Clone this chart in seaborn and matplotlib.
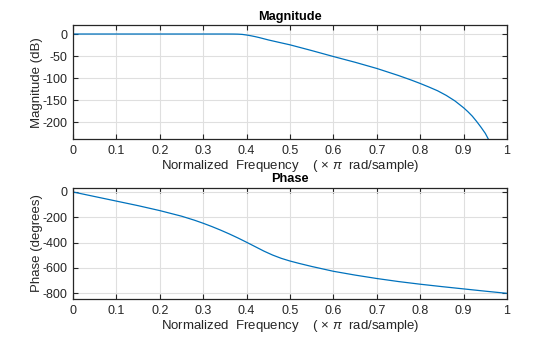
import numpy as np
import pandas as pd
import matplotlib
matplotlib.use("Agg")
import matplotlib.pyplot as plt
import seaborn as sns

# Magnitude response
mag_freq = [0.0, 0.1, 0.2, 0.3, 0.35, 0.37, 0.38, 0.39, 0.40, 0.41, 0.42, 0.43,
            0.45, 0.475, 0.50, 0.55, 0.60, 0.65, 0.70, 0.75, 0.78, 0.80, 0.82,
            0.84, 0.86, 0.88, 0.90, 0.91, 0.92, 0.93, 0.94, 0.95, 0.957]
mag_db = [0.0, 0.0, 0.0, 0.0, 0.0, -0.1, -0.3, -0.9, -2.3, -4.0, -6.0, -8.3,
          -13.4, -19.0, -24.5, -37.5, -51.0, -64.0, -78.0, -94.0, -104.5, -112.0, -120.0,
          -128.5, -139.0, -151.5, -167.0, -176.0, -186.0, -198.0, -211.0, -225.0, -238.0]

# Phase response
ph_freq = [0.0, 0.05, 0.1, 0.15, 0.2, 0.25, 0.28, 0.3, 0.32, 0.34, 0.36, 0.38,
           0.40, 0.42, 0.44, 0.46, 0.48, 0.50, 0.52, 0.55, 0.60, 0.65, 0.70,
           0.75, 0.80, 0.85, 0.90, 0.95, 1.0]
ph_deg = [0.0, -36.0, -72.0, -108.0, -147.0, -191.0, -223.0, -247.0, -273.0, -301.0, -331.0, -363.0,
          -397.0, -432.0, -467.0, -498.0, -524.0, -545.0, -563.0, -588.0, -626.0, -656.0, -683.0,
          -707.0, -728.0, -747.0, -765.0, -783.0, -800.0]

xticks = [0, 0.1, 0.2, 0.3, 0.4, 0.5, 0.6, 0.7, 0.8, 0.9, 1]
xtick_labels = ["0", "0.1", "0.2", "0.3", "0.4", "0.5", "0.6", "0.7", "0.8", "0.9", "1"]
mag_yticks = [0, -50, -100, -150, -200]
ph_yticks = [0, -200, -400, -600, -800]

sns.set_theme(style="ticks")
plt.rcParams['font.family'] = ['Liberation Sans', 'DejaVu Sans']
plt.rcParams['mathtext.fontset'] = 'custom'
plt.rcParams['mathtext.rm'] = 'Liberation Sans'
plt.rcParams['mathtext.it'] = 'Liberation Sans:italic'

line_color = "#0072BD"
text_color = "#262626"

fig = plt.figure(figsize=(5.6, 3.37), dpi=100)
ax1 = fig.add_axes([0.1304, 0.5866, 0.775, 0.3383])
ax2 = fig.add_axes([0.1304, 0.1119, 0.775, 0.3312])

df_mag = pd.DataFrame({"f": mag_freq, "m": mag_db})
df_ph = pd.DataFrame({"f": ph_freq, "p": ph_deg})

sns.lineplot(data=df_mag, x="f", y="m", ax=ax1, color=line_color, linewidth=0.9)
sns.lineplot(data=df_ph, x="f", y="p", ax=ax2, color=line_color, linewidth=0.9)

xlabel = "Normalized  Frequency    ( \u00d7 $\\mathit{\\pi}$  rad/sample)"

for ax, yt, ylim, ylab, title in [
    (ax1, mag_yticks, (-238.4, 19.7), "Magnitude (dB)", "Magnitude"),
    (ax2, ph_yticks, (-847, 34), "Phase (degrees)", "Phase"),
]:
    ax.set_xlim(0, 1)
    ax.set_ylim(*ylim)
    ax.set_xticks(xticks)
    ax.set_xticklabels(xtick_labels)
    ax.set_yticks(yt)
    ax.set_yticklabels([str(v) for v in yt])
    ax.grid(True, color="#dfdfdf", linewidth=0.8)
    ax.set_axisbelow(True)
    for s in ax.spines.values():
        s.set_visible(True)
        s.set_color("#262626")
        s.set_linewidth(0.9)
    ax.tick_params(axis="both", direction="in", length=3.5, width=0.8,
                   top=True, right=True, labelsize=9, colors="#262626",
                   labelcolor=text_color, pad=4)
    ax.set_xlabel(xlabel, fontsize=9.5, color=text_color, labelpad=1)
    ax.set_ylabel(ylab, fontsize=9.5, color=text_color, labelpad=-0.5)
    ax.set_title(title, fontsize=9.2, fontweight="bold", color="#000000", pad=4)

fig.savefig("out.png", dpi=100, facecolor="white")
